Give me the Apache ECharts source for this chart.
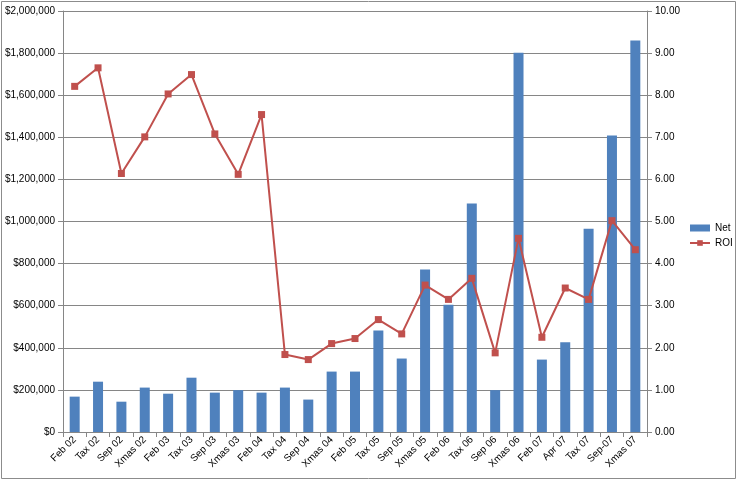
<!DOCTYPE html>
<html><head><meta charset="utf-8">
<script src="https://cdn.jsdelivr.net/npm/echarts@6/dist/echarts.min.js"></script>
<style>html,body{margin:0;padding:0;background:#fff}#c{width:738px;height:483px}</style>
</head><body><div id="c"></div>
<script>
const categories = ['Feb 02','Tax 02','Sep 02','Xmas 02','Feb 03','Tax 03','Sep 03','Xmas 03','Feb 04','Tax 04','Sep 04','Xmas 04','Feb 05','Tax 05','Sep 05','Xmas 05','Feb 06','Tax 06','Sep 06','Xmas 06','Feb 07','Apr 07','Tax 07','Sep-07','Xmas 07'];
const netValues = [168000,239000,144000,211000,182000,258000,187000,199000,187000,211000,154000,287000,287000,482000,349000,772000,605000,1086000,199000,1802000,344000,426000,965000,1409000,1860000];
const roiValues = [8.21,8.65,6.14,7.01,8.03,8.49,7.08,6.12,7.54,1.84,1.72,2.10,2.22,2.67,2.33,3.49,3.15,3.65,1.88,4.60,2.25,3.42,3.15,5.02,4.33];
const leftTicks = {min:0, max:2000000, interval:200000};
const rightTicks = {min:0, max:10, interval:1};

const font = 'Liberation Sans';
const chart = echarts.init(document.getElementById('c'));
chart.setOption({
  animation:false,
  backgroundColor:'#fff',
  textStyle:{fontFamily:font},
  graphic:[{type:'rect',shape:{x:1.5,y:1.5,width:734,height:477},style:{fill:'none',stroke:'#8c8c8c',lineWidth:1}}],
  legend:{
    orient:'vertical', left:689, top:223, padding:0, itemGap:5, itemWidth:20, itemHeight:7,
    textStyle:{fontSize:10,color:'#000',fontFamily:font},
    data:[{name:'Net',icon:'rect'},{name:'ROI'}]
  },
  grid:{left:63,right:91,top:11,bottom:51,containLabel:false},
  xAxis:{
    type:'category', data:categories, boundaryGap:true,
    axisLine:{lineStyle:{color:'#868686'}},
    axisTick:{show:true,alignWithLabel:false,length:5,lineStyle:{color:'#868686'}},
    axisLabel:{rotate:45,fontSize:10,color:'#000',interval:0,margin:6,fontFamily:font}
  },
  yAxis:[{
    type:'value', min:leftTicks.min, max:leftTicks.max, interval:leftTicks.interval,
    axisLine:{show:true,lineStyle:{color:'#868686'}},
    axisTick:{show:true,length:5,lineStyle:{color:'#868686'}},
    splitLine:{lineStyle:{color:'#868686',width:1}},
    axisLabel:{fontSize:10,color:'#000',margin:8,fontFamily:font,
      formatter:v=>'$'+v.toLocaleString('en-US')}
  },{
    type:'value', min:rightTicks.min, max:rightTicks.max, interval:rightTicks.interval,
    axisLine:{show:true,lineStyle:{color:'#868686'}},
    axisTick:{show:true,length:5,lineStyle:{color:'#868686'}},
    splitLine:{show:false},
    axisLabel:{fontSize:10,color:'#000',margin:8,fontFamily:font,formatter:v=>v.toFixed(2)}
  }],
  series:[{
    name:'Net', type:'bar', data:netValues, yAxisIndex:0, barWidth:10,
    itemStyle:{color:'#4F81BD'}
  },{
    name:'ROI', type:'line', data:roiValues, yAxisIndex:1,
    symbol:'rect', symbolSize:7, lineStyle:{color:'#C0504D',width:2},
    itemStyle:{color:'#C0504D'}
  }]
});
</script></body></html>
